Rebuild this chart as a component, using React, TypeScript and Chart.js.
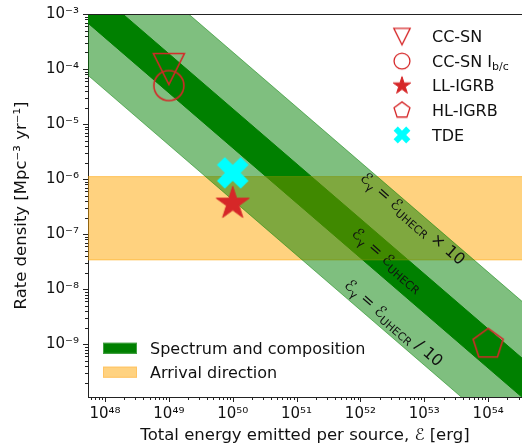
import React, { useEffect, useRef } from 'react';
import { Chart, registerables } from 'chart.js';

Chart.register(...registerables);

const FAMILY = '"DejaVu Sans", "Liberation Sans", sans-serif';
const INK = '#111111';
const AXIS = '#222222';
const RED = '#d62728';
const CYAN = '#00ffff';

// axis limits
const xLimits = [5.42e47, 3.39e54];
const yLimits = [1.1e-10, 1e-3];

// band edges: endpoints at these energies
const bandEnergy = [1e47, 1e55];
const lightUpper = [2.04e-1, 2.04e-9];
const lightLower = [4.17e-4, 4.17e-12];
const darkUpper = [1.9e-2, 1.9e-10];
const darkLower = [3.7e-3, 3.7e-11];
const arrivalUpper = [1.11e-6, 1.11e-6];
const arrivalLower = [3.4e-8, 3.4e-8];

// sources
const sourceNames = ['CC-SN', 'CC-SN Ib/c', 'LL-IGRB', 'HL-IGRB', 'TDE'];
const sourceMarkers = ['tri', 'circle', 'star', 'pent', 'x'];
const sourceEnergy = [1e49, 1e49, 1e50, 1e54, 1e50];
const sourceRate = [1e-4, 5e-5, 3.6e-7, 1e-9, 1.3e-6];

// band annotation anchors (data coords)
const annoEnergy = [6.7e52, 2.72e52, 3.37e52];
const annoRate = [1.96e-7, 3.5e-8, 2.5e-9];
const annoSuffix = [' \u00d7 10', '', ' / 10'];

const bandLegend = ['Spectrum and composition', 'Arrival direction'];

const SUP: Record<string, string> = {
  '-': '\u207b', '0': '\u2070', '1': '\u00b9', '2': '\u00b2', '3': '\u00b3', '4': '\u2074',
  '5': '\u2075', '6': '\u2076', '7': '\u2077', '8': '\u2078', '9': '\u2079',
};
const sup = (n: number) => String(n).split('').map((c) => SUP[c] || c).join('');

function logTicks(min: number, max: number) {
  const out: { value: number; major: boolean }[] = [];
  const lo = Math.floor(Math.log10(min));
  const hi = Math.ceil(Math.log10(max));
  for (let e = lo; e <= hi; e++) {
    for (let k = 1; k <= 9; k++) {
      const v = k * Math.pow(10, e);
      if (v >= min * 0.999999 && v <= max * 1.000001) out.push({ value: v, major: k === 1 });
    }
  }
  return out;
}

function isDecade(v: number) {
  const e = Math.round(Math.log10(v));
  return Math.abs(v / Math.pow(10, e) - 1) < 1e-6;
}

function fmtTick(v: any) {
  const val = Number(v);
  if (!isDecade(val)) return '';
  return '10' + sup(Math.round(Math.log10(val)));
}

function makeMarker(kind: string, s: number, lw: number): HTMLCanvasElement {
  const ext = 18 * s + lw + 2;
  const W = Math.ceil(ext * 2);
  const c = document.createElement('canvas');
  c.width = W;
  c.height = W;
  const ctx = c.getContext('2d')!;
  const cx = W / 2;
  const cy = W / 2;
  ctx.lineWidth = lw;
  ctx.lineJoin = 'miter';
  ctx.strokeStyle = RED;
  ctx.fillStyle = RED;
  ctx.beginPath();
  if (kind === 'tri') {
    const h = 15.5 * s;
    ctx.moveTo(cx - h, cy - h);
    ctx.lineTo(cx + h, cy - h);
    ctx.lineTo(cx, cy + h);
    ctx.closePath();
    ctx.stroke();
  } else if (kind === 'circle') {
    ctx.arc(cx, cy, 15 * s, 0, Math.PI * 2);
    ctx.stroke();
  } else if (kind === 'star') {
    const R = 17.3 * s;
    const r = R * 0.381966;
    for (let i = 0; i < 10; i++) {
      const a = -Math.PI / 2 + (i * Math.PI) / 5;
      const rr = i % 2 === 0 ? R : r;
      const px = cx + rr * Math.cos(a);
      const py = cy + rr * Math.sin(a);
      if (i === 0) ctx.moveTo(px, py);
      else ctx.lineTo(px, py);
    }
    ctx.closePath();
    ctx.fill();
    ctx.lineWidth = 1;
    ctx.stroke();
  } else if (kind === 'pent') {
    const R = 15.8 * s;
    for (let i = 0; i < 5; i++) {
      const a = -Math.PI / 2 + (i * 2 * Math.PI) / 5;
      const px = cx + R * Math.cos(a);
      const py = cy + R * Math.sin(a);
      if (i === 0) ctx.moveTo(px, py);
      else ctx.lineTo(px, py);
    }
    ctx.closePath();
    ctx.stroke();
  } else if (kind === 'x') {
    const u = (33.6 * s) / 6;
    const pts = [[-1, -3], [-1, -1], [-3, -1], [-3, 1], [-1, 1], [-1, 3], [1, 3], [1, 1], [3, 1], [3, -1], [1, -1], [1, -3]];
    const ca = Math.cos(Math.PI / 4);
    pts.forEach(([x, y], i) => {
      const rx = (x * ca - y * ca) * u;
      const ry = (x * ca + y * ca) * u;
      if (i === 0) ctx.moveTo(cx + rx, cy + ry);
      else ctx.lineTo(cx + rx, cy + ry);
    });
    ctx.closePath();
    ctx.fillStyle = CYAN;
    ctx.fill();
  }
  return c;
}

type Part = { t: string; sub?: boolean };

function drawRich(ctx: CanvasRenderingContext2D, parts: Part[], x: number, y: number, size: number, align: 'left' | 'center') {
  const subSize = Math.round(size * 0.7);
  const fMain = `${size}px ${FAMILY}`;
  const fSub = `${subSize}px ${FAMILY}`;
  let total = 0;
  const ws = parts.map((p) => {
    ctx.font = p.sub ? fSub : fMain;
    const w = ctx.measureText(p.t).width;
    total += w;
    return w;
  });
  let cx = align === 'center' ? x - total / 2 : x;
  const base = y + size * 0.36;
  ctx.textAlign = 'left';
  ctx.textBaseline = 'alphabetic';
  parts.forEach((p, i) => {
    ctx.font = p.sub ? fSub : fMain;
    ctx.fillText(p.t, cx, p.sub ? base + size * 0.22 : base);
    cx += ws[i];
  });
}

function zeroPad(s: any) {
  s.paddingLeft = 0;
  s.paddingRight = 0;
  s.paddingTop = 0;
  s.paddingBottom = 0;
}

export default function App() {
  const ref = useRef<HTMLCanvasElement | null>(null);

  useEffect(() => {
    const canvas = ref.current;
    if (!canvas) return;

    const plotMarkers = sourceMarkers.map((k) => makeMarker(k, 1, 1.6));
    const legendMarkers = sourceMarkers.map((k) => makeMarker(k, 0.53, 1.3));

    const edge = (ys: number[]) => bandEnergy.map((x, i) => ({ x, y: ys[i] }));

    const bandBase = {
      pointRadius: 0,
      pointHoverRadius: 0,
      tension: 0,
    };

    const datasets: any[] = [
      ...sourceNames.map((name, i) => ({
        label: name,
        data: [{ x: sourceEnergy[i], y: sourceRate[i] }],
        showLine: false,
        pointStyle: plotMarkers[i],
        pointRadius: 16,
        order: 0,
      })),
      { ...bandBase, label: 'light-upper', data: edge(lightUpper), borderColor: 'rgba(0,128,0,0.5)', borderWidth: 1, backgroundColor: 'rgba(0,128,0,0.5)', fill: '+1', order: 10 },
      { ...bandBase, label: 'light-lower', data: edge(lightLower), borderColor: 'rgba(0,128,0,0.5)', borderWidth: 1, fill: false, order: 10 },
      { ...bandBase, label: 'arr-upper', data: edge(arrivalUpper), borderColor: 'rgba(255,165,0,0.5)', borderWidth: 1, backgroundColor: 'rgba(255,165,0,0.5)', fill: '+1', order: 20 },
      { ...bandBase, label: 'arr-lower', data: edge(arrivalLower), borderColor: 'rgba(255,165,0,0.5)', borderWidth: 1, fill: false, order: 20 },
      { ...bandBase, label: 'dark-upper', data: edge(darkUpper), borderColor: 'rgb(0,128,0)', borderWidth: 1, backgroundColor: 'rgb(0,128,0)', fill: '+1', order: 30 },
      { ...bandBase, label: 'dark-lower', data: edge(darkLower), borderColor: 'rgb(0,128,0)', borderWidth: 1, fill: false, order: 30 },
    ];

    const overlay = {
      id: 'overlay',
      afterDraw(chart: any) {
        const ctx: CanvasRenderingContext2D = chart.ctx;
        const xs = chart.scales.x;
        const ys = chart.scales.y;
        const ca = chart.chartArea;
        ctx.save();

        ctx.strokeStyle = AXIS;
        ctx.lineWidth = 1;
        ctx.beginPath();
        ctx.moveTo(ca.left, Math.round(ca.top) + 0.5);
        ctx.lineTo(ca.right, Math.round(ca.top) + 0.5);
        ctx.stroke();

        xs.ticks.forEach((t: any) => {
          const px = Math.round(xs.getPixelForValue(t.value)) + 0.5;
          const len = isDecade(t.value) ? 5 : 3;
          ctx.beginPath();
          ctx.moveTo(px, ca.bottom);
          ctx.lineTo(px, ca.bottom + len);
          ctx.stroke();
        });
        ys.ticks.forEach((t: any) => {
          const py = Math.round(ys.getPixelForValue(t.value)) + 0.5;
          const len = isDecade(t.value) ? 5 : 3;
          ctx.beginPath();
          ctx.moveTo(ca.left, py);
          ctx.lineTo(ca.left - len, py);
          ctx.stroke();
        });

        ctx.fillStyle = INK;
        annoEnergy.forEach((e, i) => {
          const px = xs.getPixelForValue(e);
          const py = ys.getPixelForValue(annoRate[i]);
          const qx = xs.getPixelForValue(e * 10);
          const qy = ys.getPixelForValue(annoRate[i] / 10);
          const ang = Math.atan2(qy - py, qx - px);
          ctx.save();
          ctx.translate(px, py);
          ctx.rotate(ang);
          const parts: Part[] = [
            { t: '\u2130' },
            { t: '\u03b3', sub: true },
            { t: ' = \u2130' },
            { t: 'UHECR', sub: true },
          ];
          if (annoSuffix[i]) parts.push({ t: annoSuffix[i] });
          drawRich(ctx, parts, 0, 0, 16, 'center');
          ctx.restore();
        });

        const lx = 402;
        const tx = 432;
        const y0 = 36.5;
        const dy = 24.6;
        sourceNames.forEach((name, i) => {
          const yy = y0 + dy * i;
          const img = legendMarkers[i];
          ctx.drawImage(img, lx - img.width / 2, yy - img.height / 2);
          ctx.fillStyle = INK;
          if (name === 'CC-SN Ib/c') {
            drawRich(ctx, [{ t: 'CC-SN I' }, { t: 'b/c', sub: true }], tx, yy, 16, 'left');
          } else {
            drawRich(ctx, [{ t: name }], tx, yy, 16, 'left');
          }
        });

        const rows = [348.3, 372.2];
        const fills = ['rgb(0,128,0)', 'rgb(255,210,128)'];
        const strokes = ['rgb(64,160,64)', 'rgb(255,196,100)'];
        bandLegend.forEach((label, i) => {
          const yy = rows[i];
          ctx.fillStyle = fills[i];
          ctx.fillRect(103, yy - 5.5, 34, 11);
          ctx.strokeStyle = strokes[i];
          ctx.lineWidth = 1;
          ctx.strokeRect(103.5, yy - 5, 33, 10);
          ctx.fillStyle = INK;
          drawRich(ctx, [{ t: label }], 150, yy, 16, 'left');
        });

        ctx.restore();
      },
    };

    const chart = new Chart(canvas, {
      type: 'line',
      data: { datasets },
      options: {
        responsive: false,
        animation: false,
        devicePixelRatio: 1,
        events: [],
        layout: { autoPadding: false, padding: { top: 14, left: 0, right: 0, bottom: 0 } },
        plugins: { legend: { display: false }, tooltip: { enabled: false } },
        scales: {
          x: {
            type: 'logarithmic',
            position: 'bottom',
            min: xLimits[0],
            max: xLimits[1],
            afterBuildTicks: (s: any) => {
              s.ticks = logTicks(s.min, s.max);
            },
            afterFit: (s: any) => {
              s.height = 49;
              zeroPad(s);
            },
            grid: { display: false, drawTicks: false, drawOnChartArea: false },
            border: { display: true, color: AXIS, width: 1 },
            ticks: {
              autoSkip: false,
              maxRotation: 0,
              minRotation: 0,
              padding: 8,
              color: INK,
              font: { family: FAMILY, size: 15 },
              callback: (v: any) => fmtTick(v),
            },
            title: {
              display: true,
              text: 'Total energy emitted per source, \u2130 [erg]',
              color: INK,
              font: { family: FAMILY, size: 16.5 },
              padding: { top: 0, bottom: 0 },
            },
          },
          y: {
            type: 'logarithmic',
            position: 'left',
            min: yLimits[0],
            max: yLimits[1],
            afterBuildTicks: (s: any) => {
              s.ticks = logTicks(s.min, s.max);
            },
            afterFit: (s: any) => {
              s.width = 88;
              zeroPad(s);
            },
            grid: { display: false, drawTicks: false, drawOnChartArea: false },
            border: { display: true, color: AXIS, width: 1 },
            ticks: {
              autoSkip: false,
              padding: 9,
              color: INK,
              font: { family: FAMILY, size: 15 },
              callback: (v: any) => fmtTick(v),
            },
            title: {
              display: true,
              text: 'Rate density [Mpc\u207b\u00b3 yr\u207b\u00b9]',
              color: INK,
              font: { family: FAMILY, size: 16.5 },
              padding: { top: 12, bottom: 0 },
            },
          },
        },
      } as any,
      plugins: [overlay],
    });

    return () => chart.destroy();
  }, []);

  return (
    <div style={{ position: 'fixed', left: 0, top: 0, width: 522, height: 446, background: '#fff' }}>
      <canvas ref={ref} width={522} height={446} style={{ width: 522, height: 446, display: 'block' }} />
    </div>
  );
}
